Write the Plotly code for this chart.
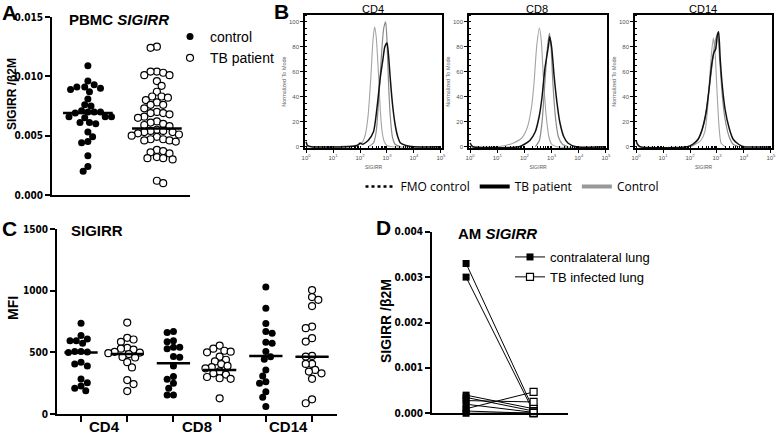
import plotly.graph_objects as go

W, H = 778, 435

# ---------------- data ----------------
# A: PBMC SIGIRR / b2M
pbmc_control = [0.0109, 0.0096, 0.0091, 0.0090, 0.0089, 0.0091, 0.0093, 0.0087, 0.0081, 0.0075,
                0.0076, 0.0070, 0.0070, 0.0069, 0.0070, 0.0071, 0.0066, 0.0065, 0.0066, 0.0066,
                0.0061, 0.0060, 0.0061, 0.0053, 0.0049, 0.0045, 0.0044, 0.0033, 0.0024, 0.0020]
pbmc_tb = [0.0125, 0.0124, 0.0104, 0.0103, 0.0101, 0.0101, 0.0104, 0.0096, 0.0092,
           0.0087, 0.0083, 0.0083, 0.0082, 0.0080, 0.0078, 0.0076, 0.0076, 0.0073,
           0.0070, 0.0069, 0.0069, 0.0068, 0.0066, 0.0065, 0.0062, 0.0061, 0.0060, 0.0059, 0.0058,
           0.0055, 0.0054, 0.0054, 0.0053, 0.0053, 0.0052, 0.0051, 0.0050, 0.0049,
           0.0047, 0.0047, 0.0046, 0.0046, 0.0045, 0.0038, 0.0037, 0.0036, 0.0035,
           0.0032, 0.0031, 0.0031, 0.0030, 0.0012, 0.0010]
pbmc_lines = [0.0069, 0.0056]

# B: flow histograms, log10(SIGIRR) vs % of mode
cd4_fmo_log = [0.0, 1.0, 1.5, 1.8, 2.0, 2.1, 2.2, 2.3, 2.4, 2.48, 2.54, 2.6, 2.68, 2.75, 2.82, 2.9, 3.0, 3.2, 5.0]
cd4_fmo_pct = [0, 0, 0.5, 1, 2, 4, 10, 25, 55, 85, 96, 88, 60, 30, 12, 4, 1, 0, 0]
cd4_tb_log = [0.0, 0.05, 0.2, 1.5, 1.9, 2.0, 2.1, 2.3, 2.5, 2.65, 2.75, 2.85, 2.92, 3.0, 3.05, 3.12, 3.2, 3.3, 3.4, 3.5, 3.7, 4.0, 5.0]
cd4_tb_pct = [4, 1, 0, 0, 1, 3, 2, 5, 12, 35, 55, 70, 80, 83, 75, 55, 35, 18, 8, 3, 1, 0, 0]
cd4_ctrl_log = [2.3, 2.5, 2.6, 2.7, 2.8, 2.88, 2.95, 3.0, 3.05, 3.12, 3.2, 3.3, 3.5]
cd4_ctrl_pct = [0, 3, 12, 40, 75, 95, 100, 85, 55, 25, 8, 2, 0]

cd8_fmo_log = [0.0, 1.0, 1.3, 1.6, 1.9, 2.1, 2.25, 2.35, 2.45, 2.55, 2.62, 2.7, 2.8, 2.9, 3.0, 3.2, 5.0]
cd8_fmo_pct = [0, 0, 1, 3, 7, 15, 30, 50, 80, 95, 85, 55, 25, 8, 2, 0, 0]
cd8_tb_log = [0.0, 0.1, 1.8, 2.0, 2.2, 2.4, 2.55, 2.65, 2.75, 2.82, 2.88, 2.93, 3.0, 3.1, 3.2, 3.3, 3.45, 3.6, 3.9, 5.0]
cd8_tb_pct = [3, 0, 0, 2, 5, 12, 25, 40, 62, 72, 80, 88, 80, 55, 35, 20, 8, 3, 0, 0]
cd8_ctrl_log = [2.4, 2.55, 2.65, 2.75, 2.85, 2.92, 2.98, 3.05, 3.15, 3.25, 3.4, 3.6]
cd8_ctrl_pct = [0, 5, 20, 50, 80, 91, 80, 50, 22, 8, 2, 0]

cd14_fmo_log = [2.0, 2.2, 2.4, 2.55, 2.65, 2.75, 2.82, 2.87, 2.93, 3.0, 3.08, 3.15, 3.3]
cd14_fmo_pct = [0, 2, 5, 12, 30, 62, 80, 87, 75, 45, 15, 3, 0]
cd14_tb_log = [0.0, 0.05, 0.15, 1.9, 2.1, 2.3, 2.45, 2.6, 2.7, 2.8, 2.88, 2.95, 3.02, 3.06, 3.12, 3.2, 3.3, 3.45, 3.6, 3.8, 4.0, 5.0]
cd14_tb_pct = [5, 2, 0, 0, 2, 6, 14, 28, 45, 65, 75, 78, 90, 92, 70, 48, 30, 15, 6, 2, 0, 0]
cd14_ctrl_log = [2.0, 2.2, 2.4, 2.55, 2.7, 2.8, 2.9, 2.98, 3.03, 3.1, 3.2, 3.3, 3.45, 3.6, 3.8]
cd14_ctrl_pct = [0, 3, 10, 22, 45, 62, 80, 88, 90, 70, 40, 22, 8, 2, 0]

# C: SIGIRR MFI
cd4_control = [736, 636, 609, 593, 593, 574, 506, 506, 498, 502, 420, 406, 390, 284, 254, 227, 208, 189]
cd4_tb = [741, 618, 604, 585, 536, 530, 522, 504, 498, 493, 486, 462, 458, 420, 378, 275, 243, 186]
cd8_control = [669, 660, 593, 585, 541, 541, 530, 466, 460, 390, 304, 281, 249, 208, 155, 155]
cd8_tb = [555, 530, 513, 505, 500, 465, 440, 426, 405, 390, 380, 370, 345, 330, 320, 300, 290, 285, 127]
cd14_control = [1030, 858, 733, 669, 655, 582, 574, 506, 465, 444, 357, 309, 262, 250, 181, 135, 60]
cd14_tb = [1005, 948, 926, 875, 709, 696, 615, 587, 471, 466, 406, 406, 357, 344, 330, 285, 119, 87]
mfi_lines = [498, 487, 411, 357, 471, 465]
mfi_groups = ['CD4', 'CD8', 'CD14']

# D: AM SIGIRR / b2M, paired samples
am_contra = [0.0033, 0.0030, 0.00040, 0.00035, 0.00028, 0.00020, 0.00010, 0.00005, 0.0]
am_tb = [0.00008, 0.00003, 0.00010, 0.00005, 0.00025, 0.00002, 0.00047, 0.0, 0.00001]

# ---------------- helpers ----------------
NARROW = "Liberation Sans Narrow, DejaVu Sans Condensed, Arial Narrow, sans-serif"
ARIAL = "Liberation Sans, Arial, sans-serif"


def fx(p):
    return p / W


def fy(p):
    return 1 - p / H


def swarm(values, center, x_scale, y_scale, diam=6.3):
    # beeswarm: each dot goes to the free slot closest to the centre (pixel space)
    placed = []
    xs = [0.0] * len(values)
    order = sorted(range(len(values)), key=lambda i: -values[i])
    step = diam / 4
    for n, i in enumerate(order):
        yp = values[i] * y_scale
        sgn = 1 if n % 2 == 0 else -1
        cands = [0.0]
        for k in range(1, 80):
            cands += [sgn * k * step, -sgn * k * step]
        off = 0.0
        for c in cands:
            if all((c - a) ** 2 + (yp - b) ** 2 >= diam ** 2 for a, b in placed):
                off = c
                break
        placed.append((off, yp))
        xs[i] = center + off / x_scale
    return xs


fig = go.Figure()

filled = dict(color='black', size=7)
hollow = dict(color='white', size=7, line=dict(color='black', width=1.2))

# ---------------- A ----------------
ax_px, ay_px = 69, 178 / 0.015
fig.add_trace(go.Scatter(x=swarm(pbmc_control, 0, ax_px, ay_px), y=pbmc_control, mode='markers',
                         marker=filled, name='control', xaxis='x', yaxis='y', legend='legend',
                         cliponaxis=False))
fig.add_trace(go.Scatter(x=swarm(pbmc_tb, 1, ax_px, ay_px), y=pbmc_tb, mode='markers',
                         marker=hollow, name='TB patient', xaxis='x', yaxis='y', legend='legend',
                         cliponaxis=False))
for i, m in enumerate(pbmc_lines):
    fig.add_trace(go.Scatter(x=[i - 0.36, i + 0.36], y=[m, m], mode='lines', showlegend=False,
                             line=dict(color='black', width=2.5), xaxis='x', yaxis='y'))

# ---------------- B ----------------
hists = [
    (cd4_fmo_log, cd4_fmo_pct, cd4_tb_log, cd4_tb_pct, cd4_ctrl_log, cd4_ctrl_pct),
    (cd8_fmo_log, cd8_fmo_pct, cd8_tb_log, cd8_tb_pct, cd8_ctrl_log, cd8_ctrl_pct),
    (cd14_fmo_log, cd14_fmo_pct, cd14_tb_log, cd14_tb_pct, cd14_ctrl_log, cd14_ctrl_pct),
]
for k, (fl, fp, tl, tp, cl, cp) in enumerate(hists):
    xa, ya = 'x%d' % (k + 2), 'y%d' % (k + 2)
    for lg, pc, col, wd in [(fl, fp, '#a3a3a3', 1.1), (cl, cp, '#8a8a8a', 1.2), (tl, tp, '#111111', 1.5)]:
        fig.add_trace(go.Scatter(x=[10 ** v for v in lg], y=pc, mode='lines', showlegend=False,
                                 line=dict(color=col, width=wd, shape='spline', smoothing=0.6),
                                 xaxis=xa, yaxis=ya))

# legend-only entries for B
fig.add_trace(go.Scatter(x=[None], y=[None], mode='lines', name='FMO control', legend='legend2',
                         line=dict(color='black', width=2.5, dash='dot'), xaxis='x2', yaxis='y2'))
fig.add_trace(go.Scatter(x=[None], y=[None], mode='lines', name='TB patient', legend='legend2',
                         line=dict(color='black', width=4), xaxis='x2', yaxis='y2'))
fig.add_trace(go.Scatter(x=[None], y=[None], mode='lines', name='Control', legend='legend2',
                         line=dict(color='#999999', width=4), xaxis='x2', yaxis='y2'))

# ---------------- C ----------------
cx_px, cy_px = 46.2, 184.7 / 1500
mfi_sets = [cd4_control, cd4_tb, cd8_control, cd8_tb, cd14_control, cd14_tb]
for i, vals in enumerate(mfi_sets):
    fig.add_trace(go.Scatter(x=swarm(vals, i, cx_px, cy_px), y=vals, mode='markers',
                             marker=filled if i % 2 == 0 else hollow, showlegend=False,
                             xaxis='x5', yaxis='y5', cliponaxis=False))
    fig.add_trace(go.Scatter(x=[i - 0.36, i + 0.36], y=[mfi_lines[i]] * 2, mode='lines', showlegend=False,
                             line=dict(color='black', width=2.5), xaxis='x5', yaxis='y5'))

# ---------------- D ----------------
for a, b in zip(am_contra, am_tb):
    fig.add_trace(go.Scatter(x=[0, 1], y=[a, b], mode='lines', showlegend=False,
                             line=dict(color='black', width=1), xaxis='x6', yaxis='y6', cliponaxis=False))
sq = dict(symbol='square', size=7, color='black')
sq_open = dict(symbol='square', size=7, color='white', line=dict(color='black', width=1.2))
fig.add_trace(go.Scatter(x=[0] * len(am_contra), y=am_contra, mode='markers', marker=sq,
                         showlegend=False, xaxis='x6', yaxis='y6', cliponaxis=False))
fig.add_trace(go.Scatter(x=[1] * len(am_tb), y=am_tb, mode='markers', marker=sq_open,
                         showlegend=False, xaxis='x6', yaxis='y6', cliponaxis=False))
fig.add_trace(go.Scatter(x=[None], y=[None], mode='lines+markers', name='contralateral lung', legend='legend3',
                         marker=sq, line=dict(color='black', width=1), xaxis='x6', yaxis='y6'))
fig.add_trace(go.Scatter(x=[None], y=[None], mode='lines+markers', name='TB infected lung', legend='legend3',
                         marker=sq_open, line=dict(color='black', width=1), xaxis='x6', yaxis='y6'))

# ---------------- axes ----------------
bold_tick = dict(family=NARROW, size=10, color='black', weight='bold')
plain_x = dict(showline=True, linewidth=2, linecolor='black', showgrid=False, zeroline=False,
               showticklabels=False, ticks='', automargin=False)
val_y = dict(showline=True, linewidth=2, linecolor='black', showgrid=False, zeroline=False,
             ticks='outside', ticklen=5, tickwidth=2, tickcolor='black', tickfont=bold_tick,
             automargin=False)

layout = dict(
    xaxis=dict(domain=[fx(52), fx(190)], range=[-0.52, 1.48], anchor='y', **plain_x),
    yaxis=dict(domain=[fy(195), fy(17)], range=[0, 0.015], anchor='x',
               tickvals=[0, 0.005, 0.010, 0.015], tickformat='.3f', **val_y),
    xaxis5=dict(domain=[fx(57), fx(337)], range=[-0.52, 5.54], anchor='y5', showline=True, linewidth=2,
                linecolor='black', showgrid=False, zeroline=False, showticklabels=False,
                tickvals=[0, 1, 2, 3, 4, 5], ticks='outside', ticklen=6, tickwidth=2, tickcolor='black',
                automargin=False),
    yaxis5=dict(domain=[fy(414), fy(229)], range=[0, 1500], anchor='x5',
                tickvals=[0, 500, 1000, 1500], **val_y),
    xaxis6=dict(domain=[fx(432), fx(568)], range=[-0.505, 1.51], anchor='y6', **plain_x),
    yaxis6=dict(domain=[fy(413.3), fy(231.7)], range=[0, 0.004], anchor='x6',
                tickvals=[0, 0.001, 0.002, 0.003, 0.004], tickformat='.3f', **val_y),
)

b_boxes = [(305, 442), (469, 607), (635, 772)]
small = dict(family=ARIAL, size=6, color='#555555')
for k, (l, r) in enumerate(b_boxes):
    n = k + 2
    layout['xaxis%d' % n] = dict(
        domain=[fx(l), fx(r)], type='log', range=[-0.04, 5.04], anchor='y%d' % n, automargin=False,
        showline=True, mirror=True, linewidth=1.5, linecolor='black', showgrid=False, zeroline=False,
        tickvals=[10 ** e for e in range(6)], ticktext=['10<sup>%d</sup>' % e for e in range(6)],
        ticks='outside', ticklen=3, tickcolor='black', tickfont=small,
        minor=dict(ticks='inside', ticklen=2, tickcolor='black', dtick='D1'),
        title=dict(text='SIGIRR', font=dict(family=ARIAL, size=5, color='#555555'), standoff=6))
    layout['yaxis%d' % n] = dict(
        domain=[fy(148), fy(15)], range=[-1, 105.4], anchor='x%d' % n, automargin=False,
        showline=True, mirror=True, linewidth=1.5, linecolor='black', showgrid=False, zeroline=False,
        tickvals=[0, 20, 40, 60, 80, 100], ticks='outside', ticklen=3, tickcolor='black', tickfont=small,
        minor=dict(ticks='inside', ticklen=2, dtick=5, tickcolor='black'),
        title=dict(text='Normalized To Mode', font=dict(family=ARIAL, size=5.5, color='#666666'), standoff=2))

fig.update_layout(**layout)


def note(text, x, y, size, angle=0, bold=True, family=ARIAL, color='black'):
    fig.add_annotation(text=text, x=fx(x), y=fy(y), xref='paper', yref='paper', showarrow=False,
                       textangle=angle, xanchor='center', yanchor='middle',
                       font=dict(family=family, size=size, color=color, weight='bold' if bold else 'normal'))


note('A', 9, 12, 21)
note('B', 281, 11, 21)
note('C', 9, 228, 21)
note('D', 383, 227, 21)
note('PBMC <i>SIGIRR</i>', 119, 19, 15)
note('SIGIRR', 97, 231, 15)
note('AM <i>SIGIRR</i>', 497, 234, 15)
note('SIGIRR /β2M', 12, 94, 12, angle=-90)
note('MFI', 13, 308, 14, angle=-90)
note('SIGIRR /β2M', 386, 321, 14, angle=-90)
note('CD4', 373, 9, 11, bold=False)
note('CD8', 537, 9, 11, bold=False)
note('CD14', 703, 9, 11, bold=False)
# group labels under panel C (between the two columns of each pair)
for g, name in enumerate(mfi_groups):
    fig.add_annotation(text=name, x=2 * g + 0.5, y=fy(426), xref='x5', yref='paper',
                       showarrow=False, yanchor='middle',
                       font=dict(family=ARIAL, size=15, color='black', weight='bold'))

fig.update_layout(
    width=W, height=H, margin=dict(l=0, r=0, t=0, b=0, autoexpand=False),
    paper_bgcolor='white', plot_bgcolor='white',
    legend=dict(x=fx(170), y=fy(21), xanchor='left', yanchor='top', bgcolor='rgba(0,0,0,0)',
                font=dict(family=ARIAL, size=14, color='black')),
    legend2=dict(orientation='h', x=fx(512), y=fy(172), xanchor='center', yanchor='top',
                 bgcolor='rgba(0,0,0,0)', font=dict(family='Open Sans, sans-serif', size=12, color='black')),
    legend3=dict(x=fx(510), y=fy(242), xanchor='left', yanchor='top', bgcolor='rgba(0,0,0,0)',
                 font=dict(family=ARIAL, size=13, color='black')),
)

# the page body has a default 8px margin; drop it so the figure sits at the window corner
fig.write_html("out.html", config={'displayModeBar': False},
               post_script="document.body.style.margin = '0';")
